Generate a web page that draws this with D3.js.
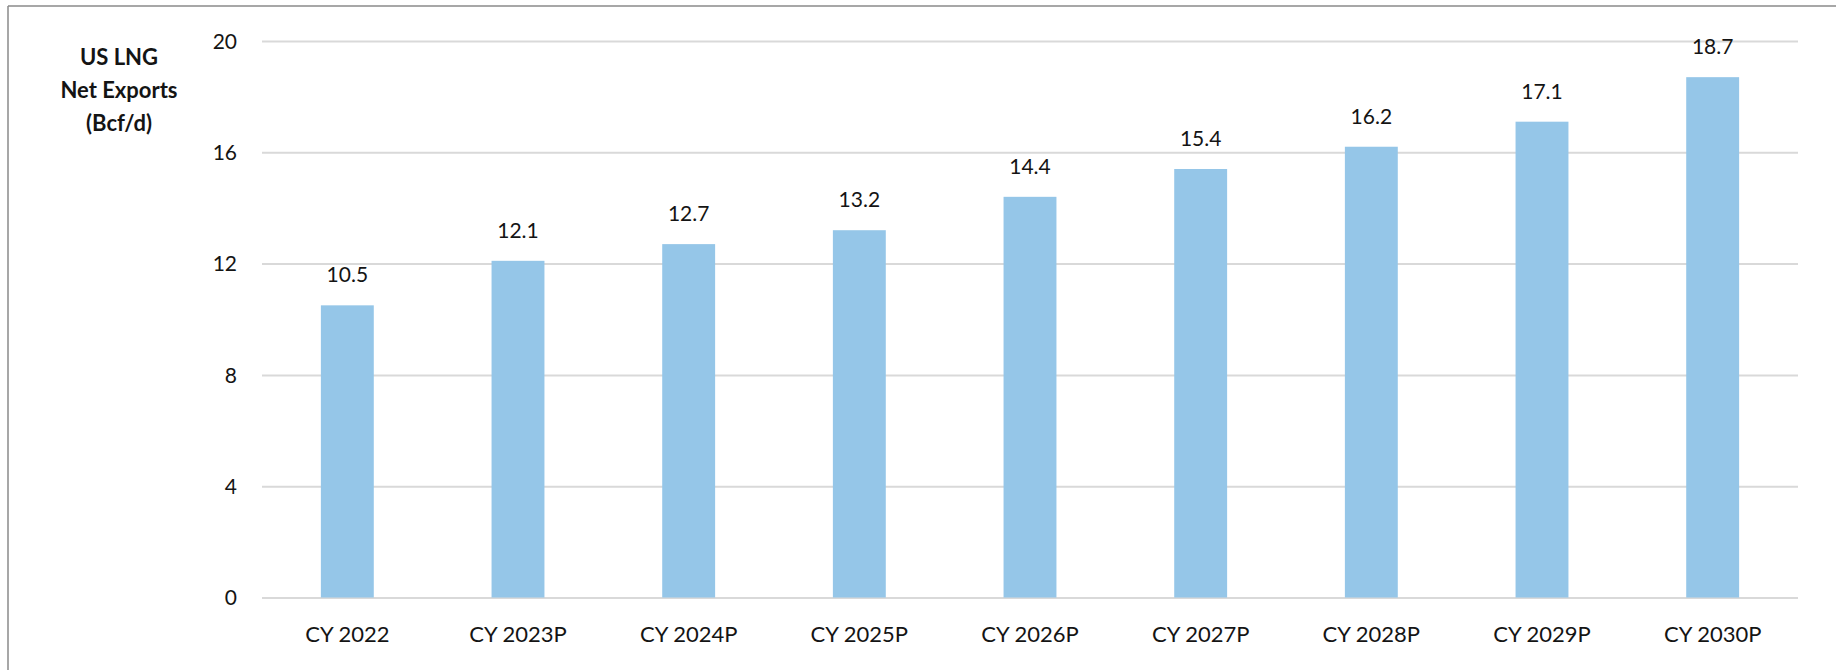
<!DOCTYPE html>
<html>
<head>
<meta charset="utf-8">
<script src="https://cdn.jsdelivr.net/npm/d3@7"></script>
<style>
  html, body { margin: 0; padding: 0; background: #fff; }
  svg { display: block; }
  text { font-family: Lato, "Open Sans", sans-serif; fill: #141414; }
</style>
</head>
<body>
<svg id="chart" width="1836" height="670"></svg>
<script>
// US LNG net exports by calendar year (Bcf/d); P = projected
const categories = ["CY 2022", "CY 2023P", "CY 2024P", "CY 2025P", "CY 2026P", "CY 2027P", "CY 2028P", "CY 2029P", "CY 2030P"];
const values = [10.5, 12.1, 12.7, 13.2, 14.4, 15.4, 16.2, 17.1, 18.7];
const yTicks = [0, 4, 8, 12, 16, 20];
const titleLines = ["US LNG", "Net Exports", "(Bcf/d)"];

const W = 1836, H = 670;
const margin = { left: 262, right: 38, top: 41, bottom: 72 };
const svg = d3.select("#chart");

// Frame: top and left edges
svg.append("line").attr("x1", 8).attr("x2", W).attr("y1", 6).attr("y2", 6)
  .attr("stroke", "#8a8a8a").attr("stroke-width", 1.5);
svg.append("line").attr("x1", 8).attr("x2", 8).attr("y1", 6).attr("y2", H)
  .attr("stroke", "#8a8a8a").attr("stroke-width", 1.5);

const x = d3.scaleBand()
  .domain(categories)
  .range([margin.left, W - margin.right])
  .paddingInner(0.69)
  .paddingOuter(0.345);

const y = d3.scaleLinear()
  .domain([0, 20])
  .range([H - margin.bottom - 0.5, margin.top]);

// Horizontal gridlines with tick labels
const yAxis = svg.append("g")
  .attr("transform", `translate(${margin.left},0)`)
  .call(d3.axisLeft(y).tickValues(yTicks)
    .tickSize(-(W - margin.right - margin.left))
    .tickPadding(25)
    .tickFormat(d3.format("d")));
yAxis.select(".domain").remove();
yAxis.selectAll(".tick line").attr("stroke", "#d9d9d9").attr("stroke-width", 2);
yAxis.selectAll(".tick text")
  .style("font-size", "21px")
  .attr("fill", "#141414")
  .attr("dy", "0.35em");

// Bars
svg.append("g").selectAll("rect")
  .data(values)
  .join("rect")
  .attr("x", (d, i) => x(categories[i]))
  .attr("width", x.bandwidth())
  .attr("y", d => y(d))
  .attr("height", d => y(0) - y(d))
  .attr("fill", "#95c6e8");

// Value labels above bars
svg.append("g").selectAll("text")
  .data(values)
  .join("text")
  .attr("x", (d, i) => x(categories[i]) + x.bandwidth() / 2)
  .attr("y", d => y(d) - 23)
  .attr("text-anchor", "middle")
  .style("font-size", "21px")
  .text(d => d3.format(".1f")(d));

// Category labels
const xAxis = svg.append("g")
  .attr("transform", `translate(0,${y(0)})`)
  .call(d3.axisBottom(x).tickSize(0).tickPadding(29));
xAxis.select(".domain").remove();
xAxis.selectAll(".tick text")
  .style("font-size", "22px")
  .attr("fill", "#141414");

// Axis title
const title = svg.append("text")
  .attr("x", 119)
  .attr("y", 65)
  .attr("text-anchor", "middle")
  .style("font-size", "22px")
  .style("font-weight", "bold");
title.selectAll("tspan")
  .data(titleLines)
  .join("tspan")
  .attr("x", 119)
  .attr("dy", (d, i) => i === 0 ? 0 : 33)
  .text(d => d);
</script>
</body>
</html>
